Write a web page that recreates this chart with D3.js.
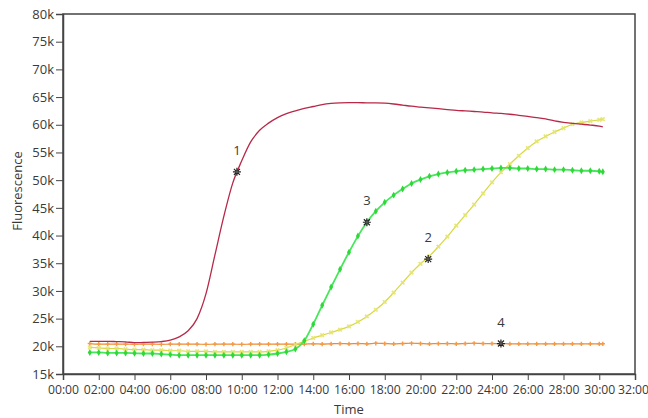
<!DOCTYPE html>
<html>
<head>
<meta charset="utf-8">
<script src="https://cdn.jsdelivr.net/npm/d3@7"></script>
<style>
  html, body { margin: 0; padding: 0; background: #fff; }
  svg { display: block; }
  text { font-family: "Open Sans", "DejaVu Sans", sans-serif; fill: #3a3a3a; }
</style>
</head>
<body>
<svg id="chart" width="648" height="418"></svg>
<script>
// ---- data ----
const times = [1.5,2,2.5,3,3.5,4,4.5,5,5.5,6,6.5,7,7.5,8,8.5,9,9.5,10,10.5,11,11.5,12,12.5,13,13.5,14,14.5,15,15.5,16,16.5,17,17.5,18,18.5,19,19.5,20,20.5,21,21.5,22,22.5,23,23.5,24,24.5,25,25.5,26,26.5,27,27.5,28,28.5,29,29.5,30,30.2];

const series1 = [20900,20900,20900,20850,20800,20650,20700,20750,20850,21100,21700,22800,25000,29500,36500,43500,49500,53500,56900,59000,60300,61300,62000,62500,62950,63300,63650,63850,63950,64000,64000,63950,63950,63900,63750,63550,63350,63200,63050,62900,62750,62600,62500,62400,62300,62150,62050,61900,61700,61500,61300,61050,60700,60450,60250,60100,59950,59750,59600];
const series2 = [19800,19700,19600,19600,19500,19400,19400,19300,19300,19200,19200,19100,19100,19100,19000,19000,19000,19000,19000,19000,19100,19300,19700,20300,20900,21500,22000,22500,23000,23600,24400,25400,26600,28000,29700,31500,33300,34900,36300,38000,39800,41800,43700,45600,47600,49600,51400,52900,54400,55800,57000,57900,58700,59400,60100,60400,60650,60900,61000];
const series3 = [18900,18900,18800,18800,18800,18750,18700,18700,18600,18500,18400,18400,18400,18400,18400,18400,18400,18400,18400,18400,18500,18700,19000,19500,21000,24000,27400,30700,33900,37000,39900,42400,44400,46000,47300,48400,49400,50100,50700,51100,51400,51600,51800,51900,52000,52100,52200,52200,52100,52100,52000,52000,51900,51900,51800,51700,51700,51600,51500];
const series4 = [20500,20400,20400,20400,20400,20350,20400,20400,20350,20400,20400,20400,20400,20350,20400,20400,20400,20350,20400,20400,20400,20400,20400,20400,20400,20450,20400,20450,20500,20450,20500,20450,20550,20500,20450,20500,20550,20500,20450,20500,20500,20450,20500,20550,20500,20500,20500,20450,20450,20450,20450,20450,20450,20450,20450,20450,20450,20450,20450];

const seriesNames = ["1", "2", "3", "4"];
const markTimes = [9.73, 20.43, 17.0, 24.5];
const markValues = [51500, 35750, 42400, 20500];

const yTicks = [15000,20000,25000,30000,35000,40000,45000,50000,55000,60000,65000,70000,75000,80000];
const xTicks = [0,2,4,6,8,10,12,14,16,18,20,22,24,26,28,30,32];
const xLabel = "Time";
const yLabel = "Fluorescence";

// ---- layout ----
const svg = d3.select("#chart");
const L = 63, R = 635, T = 14, B = 374;
const x = d3.scaleLinear().domain([0, 32]).range([L, R]);
const y = d3.scaleLinear().domain([15000, 80000]).range([B, T]);

// frame
svg.append("rect").attr("x", L).attr("y", T).attr("width", R - L).attr("height", B - T)
  .attr("fill", "none").attr("stroke", "#444").attr("stroke-width", 1.5);

// axes
const yAxis = d3.axisLeft(y).tickValues(yTicks).tickSize(7).tickPadding(2)
  .tickFormat(d => (d / 1000) + "k");
const gy = svg.append("g").attr("transform", `translate(${L},0)`).call(yAxis);
gy.select(".domain").attr("stroke", "#444").attr("stroke-width", 1.5);
gy.selectAll(".tick line").attr("stroke", "#444");
gy.selectAll(".tick text").style("font-size", "13px").attr("fill", "#3a3a3a");

const xAxis = d3.axisBottom(x).tickValues(xTicks).tickSize(6).tickPadding(5)
  .tickFormat(d => String(d).padStart(2, "0") + ":00");
const gx = svg.append("g").attr("transform", `translate(0,${B})`).call(xAxis);
gx.select(".domain").attr("stroke", "#444").attr("stroke-width", 1.5);
gx.selectAll(".tick line").attr("stroke", "#444");
gx.selectAll(".tick text").style("font-size", "12.2px").attr("fill", "#3a3a3a");
// keep the last label inside the window
gx.selectAll(".tick text").filter(d => d === 32).attr("dx", -2);

svg.append("text").attr("x", 349).attr("y", 414).attr("text-anchor", "middle")
  .style("font-size", "13px").text(xLabel);
svg.append("text").attr("transform", "translate(22,191) rotate(-90)").attr("text-anchor", "middle")
  .style("font-size", "13px").text(yLabel);

// series
const line = d3.line().x((d, i) => x(times[i])).y(d => y(d)).curve(d3.curveMonotoneX);
const plot = svg.append("g");

// series 4 orange +
plot.append("path").datum(series4).attr("d", line).attr("fill", "none")
  .attr("stroke", "#f08a2c").attr("stroke-width", 1.2);
plot.selectAll(".m4").data(series4).join("path").attr("class", "m4")
  .attr("d", d3.symbol(d3.symbolCross, 10))
  .attr("transform", (d, i) => `translate(${x(times[i])},${y(d)})`)
  .attr("fill", "#f39a48");

// series 2 yellow x
plot.append("path").datum(series2).attr("d", line).attr("fill", "none")
  .attr("stroke", "#d8d840").attr("stroke-width", 1.2);
plot.selectAll(".m2").data(series2).join("path").attr("class", "m2")
  .attr("d", d3.symbol(d3.symbolCross, 14))
  .attr("transform", (d, i) => `translate(${x(times[i])},${y(d)}) rotate(45)`)
  .attr("fill", "#e4e470").attr("opacity", 0.9);

// series 3 green
plot.append("path").datum(series3).attr("d", line).attr("fill", "none")
  .attr("stroke", "#45e85a").attr("stroke-width", 1.8);
plot.selectAll(".m3").data(series3).join("path").attr("class", "m3")
  .attr("d", d3.symbol(d3.symbolDiamond, 14))
  .attr("transform", (d, i) => `translate(${x(times[i])},${y(d)})`)
  .attr("fill", "#2ed838");

// series 1 crimson
plot.append("path").datum(series1).attr("d", line).attr("fill", "none")
  .attr("stroke", "#b82848").attr("stroke-width", 1.3);

// star markers + labels
const star = "M-4,0L4,0M0,-4L0,4M-3,-3L3,3M-3,3L3,-3";
seriesNames.forEach((n, i) => {
  const g = svg.append("g").attr("transform", `translate(${x(markTimes[i])},${y(markValues[i])})`);
  g.append("path").attr("d", star).attr("stroke", "#222").attr("stroke-width", 1.2).attr("fill", "none");
  g.append("circle").attr("r", 1.5).attr("fill", "#555");
  svg.append("text").attr("x", x(markTimes[i])).attr("y", y(markValues[i]) - 17)
    .attr("text-anchor", "middle").style("font-size", "13px").text(n);
});
</script>
</body>
</html>
